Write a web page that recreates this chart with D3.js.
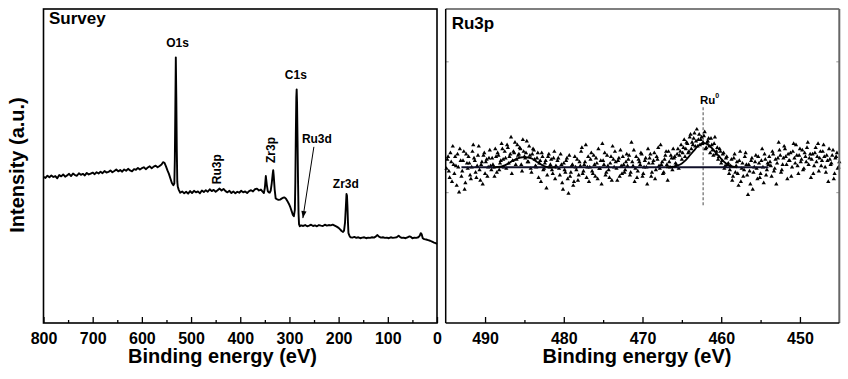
<!DOCTYPE html>
<html>
<head>
<meta charset="utf-8">
<script src="https://cdn.jsdelivr.net/npm/d3@7"></script>
<style>
  html, body { margin: 0; padding: 0; background: #fff; }
  svg { display: block; }
  text { font-family: "Liberation Sans", Arial, Helvetica, sans-serif; font-weight: bold; fill: #000; }
</style>
</head>
<body>
<svg id="chart" width="848" height="379"></svg>
<script>
// ---------------- DATA ----------------
// Survey spectrum: [binding energy (eV), intensity (a.u.)]
const surveyPoints = [
  [800,46.6],[796,46.2],[792,46.9],[788,46.4],[784,47.0],[780,46.5],[776,46.8],[772,46.1],[768,47.1],[764,46.7],
  [760,47.3],[756,46.6],[752,47.0],[748,47.5],[744,46.8],[740,47.6],[736,47.1],[732,46.9],[728,47.7],[724,47.2],
  [720,47.5],[716,47.0],[712,47.8],[708,47.3],[704,47.6],[700,47.9],[696,47.4],[692,48.0],[688,47.6],[684,48.2],
  [680,47.7],[676,48.4],[672,47.9],[668,48.1],[664,48.6],[660,48.0],[656,48.4],[652,48.9],[648,48.3],[644,48.7],
  [640,48.2],[636,48.9],[632,48.5],[628,49.1],[624,48.6],[620,48.3],[616,49.0],[612,48.8],[608,49.4],[604,48.9],
  [600,49.3],[596,49.6],[592,49.0],[588,49.5],[584,49.9],[580,49.3],[576,49.8],[572,50.1],[568,49.6],[564,50.0],
  [560,50.5],[557,51.2],[554,51.0],[551,49.9],[548,48.6],[545,47.5],[542,46.0],[539,44.6],[536,43.9],[534,44.4],
  [533,52.0],[532,68.0],[531,84.6],[530,72.0],[529,55.0],[528,45.0],[527,43.4],[525,42.4],[522,41.5],[518,41.9],
  [514,41.3],[510,41.8],[506,41.2],[502,42.0],[498,41.4],[494,42.1],[490,41.6],[486,41.9],[482,41.3],[478,42.2],
  [474,41.7],[470,42.3],[466,41.8],[462,42.6],[458,42.0],[454,42.4],[450,41.8],[446,42.3],[442,42.8],[438,42.2],
  [434,42.7],[430,42.0],[426,41.6],[422,42.1],[418,41.4],[414,41.9],[410,41.3],[406,41.8],[402,41.5],[398,42.1],
  [394,41.6],[390,41.9],[386,41.4],[382,42.0],[378,42.3],[374,41.9],[370,42.6],[366,42.8],[362,42.2],[358,42.5],
  [355,41.9],[352,41.4],[350,43.0],[348,46.8],[346,44.0],[344,42.0],[342,41.6],[340,41.5],[338,42.2],[336,44.5],
  [334,47.5],[333,48.7],[332,47.0],[330,42.5],[328,39.7],[325,39.4],[322,39.2],[319,39.3],[316,39.6],[313,39.9],
  [310,40.0],[307,39.6],[304,38.8],[301,37.9],[298,36.8],[295,35.4],[293,34.4],[291,34.0],[289,36.0],[288,45.0],
  [287,60.0],[286,72.0],[285.3,74.4],[284.5,70.0],[283.5,58.0],[282.5,45.0],[281.5,35.0],[280.5,31.5],[279,30.8],[276,31.1],
  [272,30.9],[268,31.2],[264,30.8],[260,31.0],[256,31.3],[252,30.9],[248,31.1],[244,30.8],[240,31.2],[236,31.0],
  [232,30.9],[228,31.3],[224,31.0],[220,31.2],[216,31.1],[212,31.3],[208,31.0],[204,30.7],[200,30.3],[197,29.8],
  [194,29.3],[191,29.0],[189,29.4],[187,32.0],[185,38.0],[184,41.1],[183,40.5],[182,37.0],[181,32.0],[180,28.6],
  [178,27.8],[176,27.3],[172,27.2],[168,27.4],[164,27.1],[160,27.3],[156,27.0],[152,27.2],[148,27.3],[144,27.0],
  [140,27.2],[136,27.1],[132,27.3],[128,27.2],[124,27.6],[121,28.0],[118,27.5],[114,27.2],[110,27.3],[106,27.1],
  [102,27.2],[98,27.0],[94,27.3],[90,27.1],[86,27.2],[82,27.3],[78,27.8],[75,27.4],[72,27.1],[68,27.2],
  [64,27.0],[60,27.3],[56,27.6],[53,27.4],[50,27.0],[46,27.2],[42,27.1],[38,27.3],[35,27.8],[33,28.6],
  [31,28.2],[29,27.0],[26,26.7],[22,26.6],[18,26.4],[14,26.2],[10,25.9],[6,25.6],[3,25.4],[0,25.2]
];

// Survey peak labels: [text, energy, intensity, rotated]
const surveyLabels = [
  ["O1s", 527.3, 88.0, false],
  ["C1s", 286.9, 77.7, false],
  ["Ru3d", 244.2, 57.3, false],
  ["Zr3d", 185.3, 43.0, false],
  ["Ru3p", 439.3, 49.0, true],
  ["Zr3p", 328.6, 55.1, true]
];
// Ru3d arrow: [from energy, from intensity, to energy, to intensity]
const ru3dArrow = [250.3, 56.1, 272.7, 33.4];

const surveyTicksMajor = [800,700,600,500,400,300,200,100,0];
const surveyTicksMinor = [750,650,550,450,350,250,150,50];

// Ru3p high-resolution scan (two interleaved sweeps): first energy, step, measured intensities
const ruStep = 0.2;
const ruStartA = 494.8;
const ruIntensityA = [
  1.25,1.16,1.30,1.08,1.21,1.27,1.05,1.19,1.33,1.12,1.24,1.02,1.29,1.18,1.22,1.10,1.31,1.26,1.15,1.20,1.35,1.09,1.23,1.28,1.14,1.25,1.19,1.32,1.17,
  1.21,1.12,1.27,1.30,1.17,1.24,1.33,1.19,1.26,1.36,1.22,1.29,1.14,1.31,1.38,1.25,1.28,1.34,1.21,1.40,1.27,1.30,1.23,1.35,1.18,1.29,1.32,1.20,1.26,1.11,1.24,1.30,1.17,1.22,1.03,1.27,1.19,1.25,1.14,1.31,1.20,
  1.24,1.18,1.29,1.07,1.22,1.15,1.26,0.99,1.12,1.20,1.05,1.27,1.17,1.09,1.23,1.31,1.14,1.21,1.36,1.19,1.08,1.25,1.16,1.28,1.12,1.22,1.33,1.18,1.06,1.24,1.30,1.15,1.20,1.11,1.27,1.35,1.19,1.23,1.09,1.26,1.32,1.14,1.21,1.17,1.29,
  1.25,1.13,1.38,1.20,1.08,1.27,1.16,1.23,1.30,1.12,1.19,1.26,1.06,1.22,1.29,1.15,1.24,1.10,1.27,1.34,1.18,1.21,1.14,1.25,1.31,1.09,1.23,1.28,1.17,1.26,
  1.22,1.29,1.18,1.31,1.25,1.34,1.27,1.38,1.30,1.42,1.33,1.36,1.45,1.39,1.35,1.44,1.40,1.37,1.43,1.33,1.38,1.41,1.30,1.36,1.28,1.42,1.31,1.25,1.33,1.22,1.29,1.18,1.26,1.21,1.14,
  1.20,1.09,1.26,1.15,1.23,1.05,1.31,1.18,1.12,1.27,1.21,0.98,1.16,1.24,1.02,1.19,1.28,1.10,1.22,1.14,1.33,1.07,1.25,1.17,1.21,
  1.23,1.12,1.29,1.18,1.06,1.26,1.32,1.15,1.21,1.35,1.27,1.10,1.24,1.30,1.19,1.37,1.22,1.28,1.14,1.33,1.25,1.17,1.30,1.23,1.38,1.26,1.11,1.29,1.20,1.34,1.27,1.16,1.31,1.24,1.36,1.19,1.28,1.08,1.25,1.22,1.32,1.14,1.27,1.18,1.23
];
const ruStartB = 494.9;
const ruIntensityB = [
  1.18,1.27,1.11,1.23,1.35,1.14,1.20,1.29,1.00,1.24,1.16,1.31,1.07,1.22,1.27,1.13,1.19,1.36,1.24,1.11,1.28,1.17,1.21,1.06,1.30,1.23,1.12,1.26,1.20,
  1.26,1.19,1.33,1.15,1.28,1.22,1.37,1.25,1.31,1.18,1.34,1.27,1.42,1.24,1.30,1.21,1.36,1.29,1.33,1.16,1.31,1.26,1.39,1.23,1.28,1.15,1.33,1.25,1.19,1.30,1.22,1.08,1.27,1.18,1.24,1.13,1.29,1.21,1.17,1.26,1.10,
  1.19,1.26,1.13,1.21,1.02,1.17,1.24,1.10,1.28,1.15,1.21,1.08,1.19,1.25,1.13,1.20,1.34,1.16,1.23,1.11,1.27,1.19,1.30,1.14,1.21,1.26,1.10,1.18,1.24,1.37,1.21,1.13,1.28,1.17,1.22,1.09,1.25,1.31,1.18,1.24,1.12,1.20,1.27,1.15,1.23,
  1.20,1.28,1.15,1.23,1.32,1.18,1.11,1.25,1.21,1.29,1.14,1.24,1.19,1.33,1.26,1.12,1.22,1.30,1.17,1.25,1.20,1.36,1.23,1.15,1.28,1.21,1.31,1.19,1.26,1.33,
  1.27,1.21,1.33,1.28,1.36,1.30,1.40,1.33,1.37,1.31,1.44,1.38,1.41,1.35,1.48,1.40,1.36,1.42,1.38,1.46,1.34,1.39,1.35,1.41,1.32,1.37,1.29,1.34,1.27,1.31,1.24,1.30,1.20,1.27,1.22,
  1.17,1.25,1.12,1.29,1.20,1.14,1.24,1.08,1.22,1.17,1.30,1.13,1.21,1.06,1.26,1.15,1.23,1.18,1.27,1.11,1.24,1.19,1.29,1.13,1.22,
  1.27,1.20,1.31,1.16,1.25,1.22,1.38,1.28,1.17,1.26,1.33,1.21,1.29,1.24,1.12,1.31,1.26,1.36,1.20,1.28,1.23,1.32,1.18,1.27,1.34,1.21,1.29,1.25,1.14,1.30,1.23,1.37,1.26,1.20,1.31,1.27,1.15,1.24,1.33,1.21,1.28,1.10,1.26,1.30,1.19
];

// Fitted background and components
const ruBackground = [[493,1.19],[454,1.19]];
const ruFitMain = [
  [467.0,1.19],[466.0,1.195],[465.5,1.205],[465.0,1.22],[464.5,1.245],[464.0,1.28],[463.5,1.315],[463.0,1.35],
  [462.5,1.37],[462.2,1.374],[462.0,1.372],[461.5,1.355],[461.0,1.325],[460.5,1.29],[460.0,1.255],[459.5,1.225],
  [459.0,1.205],[458.5,1.195],[458.0,1.19]
];
const ruFitMinor = [
  [489.0,1.19],[488.0,1.195],[487.5,1.205],[487.0,1.22],[486.5,1.24],[486.0,1.255],[485.5,1.265],[485.0,1.268],
  [484.5,1.265],[484.0,1.255],[483.5,1.235],[483.0,1.215],[482.5,1.2],[482.0,1.192],[481.0,1.19]
];
const ru0Position = 462.3;           // dashed marker energy
const ru0Span = [0.885, 1.649];      // dashed marker intensity span
const ru0Label = ["Ru", "0", 462.7, 1.677];

const ruTicksMajor = [490,480,470,460,450];
const ruTicksMinor = [485,475,465,455];
const ruYTicks = [1, 2];

// ---------------- DRAW ----------------
const svg = d3.select("#chart");

// Left panel (survey)
const L = {x0: 43.5, x1: 437, y0: 9, y1: 323};
const xL = d3.scaleLinear().domain([800, 0]).range([L.x0, L.x1]);
const yL = d3.scaleLinear().domain([0, 100]).range([L.y1, L.y0]);

// Right panel (Ru3p)
const R = {x0: 445.7, x1: 839.3, y0: 9, y1: 323};
const xR = d3.scaleLinear().domain([495, 445]).range([R.x0, R.x1]);
const yR = d3.scaleLinear().domain([0, 2.4]).range([R.y1, R.y0]);

// ---- left panel ----
const gL = svg.append("g");
gL.append("path")
  .datum(surveyPoints)
  .attr("fill", "none")
  .attr("stroke", "#000")
  .attr("stroke-width", 1.9)
  .attr("stroke-linejoin", "round")
  .attr("d", d3.line().x(d => xL(d[0])).y(d => yL(d[1])));

const axL = gL.append("g").attr("transform", `translate(0,${L.y1})`)
  .call(d3.axisBottom(xL).tickValues(surveyTicksMajor).tickSize(-6).tickPadding(10).tickFormat(d3.format("d")));
axL.select(".domain").remove();
axL.selectAll("line").attr("stroke", "#000").attr("stroke-width", 1.3);
axL.selectAll("text").attr("font-size", 16).attr("font-family", '"Liberation Sans", Arial, sans-serif').attr("font-weight", "bold");
const axLm = gL.append("g").attr("transform", `translate(0,${L.y1})`)
  .call(d3.axisBottom(xL).tickValues(surveyTicksMinor).tickSize(-3).tickFormat(""));
axLm.select(".domain").remove();
axLm.selectAll("line").attr("stroke", "#000").attr("stroke-width", 1.3);

gL.append("rect")
  .attr("x", L.x0).attr("y", L.y0).attr("width", L.x1 - L.x0).attr("height", L.y1 - L.y0)
  .attr("fill", "none").attr("stroke", "#000").attr("stroke-width", 1.6);

gL.append("text").attr("x", L.x0 + 5.5).attr("y", 23.5).attr("font-size", 17).text("Survey");

surveyLabels.forEach(([t, e, v, rot]) => {
  const tx = gL.append("text").attr("font-size", 12).attr("text-anchor", "middle").text(t);
  if (rot) tx.attr("transform", `translate(${xL(e)},${yL(v)}) rotate(-90)`);
  else tx.attr("x", xL(e)).attr("y", yL(v));
});

// Ru3d arrow
const ax1 = xL(ru3dArrow[0]), ay1 = yL(ru3dArrow[1]), ax2 = xL(ru3dArrow[2]), ay2 = yL(ru3dArrow[3]);
gL.append("line").attr("x1", ax1).attr("y1", ay1).attr("x2", ax2).attr("y2", ay2)
  .attr("stroke", "#000").attr("stroke-width", 1);
{
  const ang = Math.atan2(ay2 - ay1, ax2 - ax1);
  const len = 7, w = 2.6;
  const bx = ax2 - len * Math.cos(ang), by = ay2 - len * Math.sin(ang);
  const px = -Math.sin(ang) * w, py = Math.cos(ang) * w;
  gL.append("path")
    .attr("d", `M${ax2},${ay2}L${bx + px},${by + py}L${bx - px},${by - py}Z`)
    .attr("fill", "#000");
}

// Y axis title
svg.append("text")
  .attr("transform", `translate(23.5,165) rotate(-90)`)
  .attr("text-anchor", "middle").attr("font-size", 20)
  .text("Intensity (a.u.)");

// X axis titles
svg.append("text").attr("x", 222.5).attr("y", 363).attr("text-anchor", "middle").attr("font-size", 20)
  .text("Binding energy (eV)");
svg.append("text").attr("x", 637).attr("y", 363).attr("text-anchor", "middle").attr("font-size", 20)
  .text("Binding energy (eV)");

// ---- right panel ----
const gR = svg.append("g");
const ruData = ruIntensityA.map((v, i) => [ruStartA - ruStep * i, v])
  .concat(ruIntensityB.map((v, i) => [ruStartB - ruStep * i, v]));

// dashed Ru0 marker
gR.append("line")
  .attr("x1", xR(ru0Position)).attr("x2", xR(ru0Position))
  .attr("y1", yR(ru0Span[1])).attr("y2", yR(ru0Span[0]))
  .attr("stroke", "#333").attr("stroke-width", 0.9).attr("stroke-dasharray", "3,2");

const tri = d3.symbol().type(d3.symbolTriangle).size(8);
gR.selectAll("path.pt").data(ruData).join("path")
  .attr("class", "pt")
  .attr("transform", d => `translate(${xR(d[0])},${yR(d[1])})`)
  .attr("d", tri)
  .attr("fill", "#000");

const lineR = d3.line().x(d => xR(d[0])).y(d => yR(d[1]));
gR.append("path").datum(ruBackground).attr("d", lineR)
  .attr("fill", "none").attr("stroke", "#10102a").attr("stroke-width", 2);
[ruFitMain, ruFitMinor].forEach(f => {
  gR.append("path").datum(f).attr("d", d3.line().curve(d3.curveMonotoneX).x(d => xR(d[0])).y(d => yR(d[1])))
    .attr("fill", "none").attr("stroke", "#000").attr("stroke-width", 1.8);
});

// Ru0 label
const ruLab = gR.append("text").attr("x", xR(ru0Label[2])).attr("y", yR(ru0Label[3])).attr("font-size", 11.5);
ruLab.append("tspan").text(ru0Label[0]);
ruLab.append("tspan").attr("dy", -6).attr("font-size", 7).text(ru0Label[1]);

// axes
const axR = gR.append("g").attr("transform", `translate(0,${R.y1})`)
  .call(d3.axisBottom(xR).tickValues(ruTicksMajor).tickSize(-6).tickPadding(10).tickFormat(d3.format("d")));
axR.select(".domain").remove();
axR.selectAll("line").attr("stroke", "#000").attr("stroke-width", 1.3);
axR.selectAll("text").attr("font-size", 16).attr("font-family", '"Liberation Sans", Arial, sans-serif').attr("font-weight", "bold");
const axRm = gR.append("g").attr("transform", `translate(0,${R.y1})`)
  .call(d3.axisBottom(xR).tickValues(ruTicksMinor).tickSize(-3).tickFormat(""));
axRm.select(".domain").remove();
axRm.selectAll("line").attr("stroke", "#000").attr("stroke-width", 1.3);

// faint y ticks on both sides
const ayRl = gR.append("g").attr("transform", `translate(${R.x0},0)`)
  .call(d3.axisLeft(yR).tickValues(ruYTicks).tickSize(-3).tickFormat(""));
ayRl.select(".domain").remove();
ayRl.selectAll("line").attr("stroke", "#999");
const ayRr = gR.append("g").attr("transform", `translate(${R.x1},0)`)
  .call(d3.axisRight(yR).tickValues(ruYTicks).tickSize(-3).tickFormat(""));
ayRr.select(".domain").remove();
ayRr.selectAll("line").attr("stroke", "#999");

// frame
gR.append("line").attr("x1", R.x0).attr("x2", R.x1).attr("y1", R.y0).attr("y2", R.y0).attr("stroke", "#555").attr("stroke-width", 1.6);
gR.append("line").attr("x1", R.x1).attr("x2", R.x1).attr("y1", R.y0).attr("y2", R.y1).attr("stroke", "#666").attr("stroke-width", 2);
gR.append("line").attr("x1", R.x0).attr("x2", R.x0).attr("y1", R.y0).attr("y2", R.y1).attr("stroke", "#000").attr("stroke-width", 1.5);
gR.append("line").attr("x1", R.x0).attr("x2", R.x1).attr("y1", R.y1).attr("y2", R.y1).attr("stroke", "#000").attr("stroke-width", 1.5);

gR.append("text").attr("x", R.x0 + 6).attr("y", 29).attr("font-size", 17).text("Ru3p");
</script>
</body>
</html>
